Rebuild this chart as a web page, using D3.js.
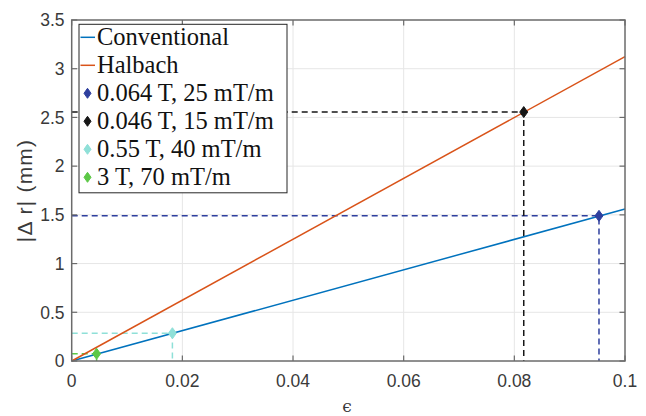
<!DOCTYPE html>
<html><head><meta charset="utf-8">
<script src="https://cdn.jsdelivr.net/npm/d3@7"></script>
<style>body{margin:0;background:#fff}svg{display:block}
.lgt{font-family:"Liberation Serif","Times New Roman",serif}
.eps{font-family:"DejaVu Serif",serif}
.axt{font-family:"Liberation Sans",Arial,Helvetica,sans-serif}
</style>
</head><body>
<script>
// Data
const epsLine = [0, 0.1];
const conventional = [0, 1.56];
const halbach = [0, 3.124];
const seriesNames = ["Conventional", "Halbach"];
const seriesColors = ["#0072BD", "#D95319"];

const pointLabels = ["0.064 T, 25 mT/m", "0.046 T, 15 mT/m", "0.55 T, 40 mT/m", "3 T, 70 mT/m"];
const pointEps = [0.0953, 0.0817, 0.0182, 0.0045];
const pointDr = [1.49, 2.555, 0.285, 0.074];
const pointColors = ["#2E3F9E", "#161616", "#8FE0D8", "#5CC846"];

const xTicks = [0, 0.02, 0.04, 0.06, 0.08, 0.1];
const xTickLabels = ["0", "0.02", "0.04", "0.06", "0.08", "0.1"];
const yTicks = [0, 0.5, 1, 1.5, 2, 2.5, 3, 3.5];
const yTickLabels = ["0", "0.5", "1", "1.5", "2", "2.5", "3", "3.5"];

const W = 646, H = 416;
const L = 71.7, R = 625, T = 20, B = 361;
const svg = d3.select("body").append("svg").attr("width", W).attr("height", H);
const x = d3.scaleLinear().domain([0, 0.1]).range([L, R]);
const y = d3.scaleLinear().domain([0, 3.5]).range([B, T]);

// grid
const g = svg.append("g");
g.selectAll(".gx").data(xTicks.slice(1, -1)).enter().append("line")
  .attr("x1", d => x(d)).attr("x2", d => x(d)).attr("y1", T).attr("y2", B)
  .attr("stroke", "#e6e6e6").attr("stroke-width", 1);
g.selectAll(".gy").data(yTicks.slice(1, -1)).enter().append("line")
  .attr("y1", d => y(d)).attr("y2", d => y(d)).attr("x1", L).attr("x2", R)
  .attr("stroke", "#e6e6e6").attr("stroke-width", 1);

// dashed guides
const guides = svg.append("g");
pointEps.forEach((e, i) => {
  guides.append("path")
    .attr("d", `M${x(0)},${y(pointDr[i])}H${x(e)}V${y(0)}`)
    .attr("fill", "none").attr("stroke", pointColors[i]).attr("stroke-width", 1.5)
    .attr("stroke-dasharray", "6,4");
});

// lines
const lineGen = d3.line().x((d, i) => x(epsLine[i])).y(d => y(d));
[conventional, halbach].forEach((s, k) => {
  svg.append("path").attr("d", lineGen(s)).attr("fill", "none")
    .attr("stroke", seriesColors[k]).attr("stroke-width", 1.5);
});

// markers
const diamond = (cx, cy, w, h) => `M${cx},${cy - h}L${cx + w},${cy}L${cx},${cy + h}L${cx - w},${cy}Z`;
pointEps.forEach((e, i) => {
  svg.append("path").attr("d", diamond(x(e), y(pointDr[i]), 4, 5.5))
    .attr("fill", pointColors[i]).attr("stroke", pointColors[i]).attr("stroke-width", 1);
});

// axes box & ticks
const ax = svg.append("g").attr("class", "axt");
const axisColor = "#6b6b6b";
ax.append("rect").attr("x", L).attr("y", T).attr("width", R - L).attr("height", B - T)
  .attr("fill", "none").attr("stroke", axisColor).attr("stroke-width", 1.5);
const tl = 5.5;
xTicks.forEach(t => {
  ax.append("line").attr("x1", x(t)).attr("x2", x(t)).attr("y1", B).attr("y2", B - tl).attr("stroke", axisColor).attr("stroke-width", 1.2);
  ax.append("line").attr("x1", x(t)).attr("x2", x(t)).attr("y1", T).attr("y2", T + tl).attr("stroke", axisColor).attr("stroke-width", 1.2);
});
yTicks.forEach(t => {
  ax.append("line").attr("y1", y(t)).attr("y2", y(t)).attr("x1", L).attr("x2", L + tl).attr("stroke", axisColor).attr("stroke-width", 1.2);
  ax.append("line").attr("y1", y(t)).attr("y2", y(t)).attr("x1", R).attr("x2", R - tl).attr("stroke", axisColor).attr("stroke-width", 1.2);
});
ax.selectAll(".xl").data(xTicks).enter().append("text")
  .attr("x", d => x(d)).attr("y", 386.5).attr("text-anchor", "middle")
  .attr("font-size", 17.5).attr("fill", "#3a3a3a").text((d, i) => xTickLabels[i]);
ax.selectAll(".yl").data(yTicks).enter().append("text")
  .attr("x", 64.5).attr("y", d => y(d) + 6.3).attr("text-anchor", "end")
  .attr("font-size", 17.5).attr("fill", "#3a3a3a").text((d, i) => yTickLabels[i]);

// axis labels
ax.append("text").attr("transform", `translate(32,${(T + B) / 2}) rotate(-90)`)
  .attr("text-anchor", "middle").attr("font-size", 21).attr("fill", "#3a3a3a")
  .attr("letter-spacing", 1.2)
  .text("|\u0394 r| (mm)");
ax.append("text").attr("x", 347).attr("y", 412).attr("text-anchor", "middle")
  .attr("font-size", 17).attr("fill", "#3a3a3a").attr("class", "eps")
  .text("\u03F5");

// legend
const lg = svg.append("g").attr("class", "lgt");
const lx = 79, ly = 24.3, lw = 208, lh = 168.5;
lg.append("rect").attr("x", lx).attr("y", ly).attr("width", lw).attr("height", lh)
  .attr("fill", "#fff").attr("stroke", "#262626").attr("stroke-width", 1);
const rowH = 28;
const rows = seriesNames.map((n, i) => ({ name: n, color: seriesColors[i], type: "line" }))
  .concat(pointLabels.map((n, i) => ({ name: n, color: pointColors[i], type: "marker" })));
rows.forEach((r, i) => {
  const cy = ly + 13 + i * rowH;
  if (r.type === "line") {
    lg.append("line").attr("x1", lx + 1.5).attr("x2", lx + 16).attr("y1", cy).attr("y2", cy)
      .attr("stroke", r.color).attr("stroke-width", 1.5);
  } else {
    lg.append("path").attr("d", diamond(lx + 8.5, cy, 3.5, 5)).attr("fill", r.color).attr("stroke", r.color);
  }
  lg.append("text").attr("x", lx + 18).attr("y", cy + 8).attr("font-size", 24.5)
    .attr("fill", "#111").text(r.name);
});
</script>
</body></html>
